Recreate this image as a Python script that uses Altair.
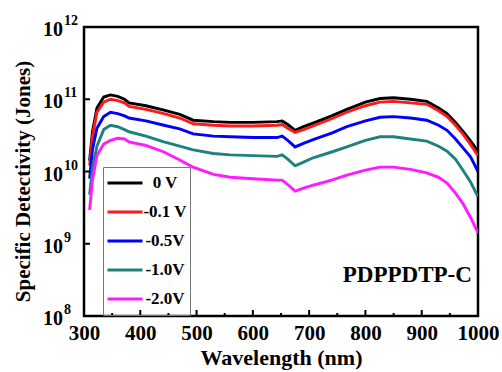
import altair as alt
import pandas as pd

wavelength = [310, 315, 323, 335, 347, 360, 372, 380, 410, 442, 470, 494, 530, 560, 600,
              643, 652, 662, 675, 690, 707, 740, 767, 800, 826, 850, 880, 909, 930, 945,
              960, 973, 987, 1000]

# log10 of specific detectivity
log_0V = [10.15, 10.55, 10.88, 11.03, 11.06, 11.04, 11.00, 10.95, 10.91, 10.85, 10.79, 10.71,
          10.69, 10.68, 10.68, 10.69, 10.70, 10.65, 10.57, 10.62, 10.67, 10.77, 10.86, 10.96,
          11.01, 11.02, 11.00, 10.97, 10.88, 10.80, 10.68, 10.56, 10.42, 10.28]
log_01V = [10.08, 10.48, 10.82, 10.96, 11.00, 10.98, 10.95, 10.90, 10.86, 10.80, 10.74, 10.66,
           10.64, 10.63, 10.63, 10.64, 10.65, 10.60, 10.54, 10.58, 10.63, 10.73, 10.82, 10.91,
           10.96, 10.97, 10.95, 10.93, 10.84, 10.76, 10.64, 10.52, 10.37, 10.22]
log_05V = [9.90, 10.30, 10.60, 10.76, 10.82, 10.80, 10.77, 10.74, 10.70, 10.64, 10.59, 10.52,
           10.49, 10.48, 10.47, 10.47, 10.49, 10.43, 10.34, 10.39, 10.44, 10.53, 10.62, 10.70,
           10.75, 10.76, 10.74, 10.71, 10.64, 10.57, 10.45, 10.33, 10.20, 10.00]
log_10V = [9.68, 10.05, 10.35, 10.58, 10.64, 10.62, 10.58, 10.55, 10.49, 10.41, 10.35, 10.30,
           10.25, 10.23, 10.22, 10.21, 10.23, 10.17, 10.08, 10.13, 10.19, 10.27, 10.34, 10.43,
           10.48, 10.48, 10.45, 10.42, 10.35, 10.28, 10.17, 10.02, 9.85, 9.65]
log_20V = [9.47, 9.88, 10.22, 10.38, 10.43, 10.46, 10.45, 10.41, 10.36, 10.27, 10.16, 10.06,
           9.96, 9.92, 9.90, 9.88, 9.88, 9.82, 9.73, 9.77, 9.81, 9.88, 9.95, 10.02,
           10.06, 10.06, 10.03, 9.98, 9.92, 9.84, 9.70, 9.56, 9.36, 9.15]

series_names = ["0 V", "-0.1 V", "-0.5V", "-1.0V", "-2.0V"]
series_colors = ["#000000", "#ff1a1a", "#0000ff", "#1f8080", "#ff1aff"]
series_logs = [log_0V, log_01V, log_05V, log_10V, log_20V]

x_major = [300, 400, 500, 600, 700, 800, 900, 1000]
x_minor = [350, 450, 550, 650, 750, 850, 950]
y_major = [1e8, 1e9, 1e10, 1e11, 1e12]
y_base_labels = ["10", "10", "10", "10", "10"]
y_exp_labels = ["8", "9", "10", "11", "12"]

sample_label = "PDPPDTP-C"
label_pos_x = [989]
label_pos_y = [3.7e8]

rows = []
for name, logs in zip(series_names, series_logs):
    for w, l in zip(wavelength, logs):
        rows.append({"wl": w, "D": 10 ** l, "series": name})
df = pd.DataFrame(rows)

FONT = "Liberation Serif"
W, H = 394, 289

xscale = alt.Scale(domain=[300, 1000], nice=False, zero=False)
yscale = alt.Scale(type="log", domain=[1e8, 1e12], nice=False)

lines = alt.Chart(df).mark_line(strokeWidth=2.9, clip=True).encode(
    x=alt.X("wl:Q", scale=xscale,
            axis=alt.Axis(values=x_major, format="d", title="Wavelength (nm)", grid=False,
                          ticks=False, domain=False, labelFont=FONT, labelFontSize=21,
                          labelFontWeight="bold", labelColor="black", labelPadding=6,
                          titleFont=FONT, titleFontSize=22, titleFontWeight="bold",
                          titleColor="black", titlePadding=4, labelFlush=False)),
    y=alt.Y("D:Q", scale=yscale,
            axis=alt.Axis(values=y_major, title="Specific Detectivity (Jones)", grid=False,
                          ticks=False, domain=False, labels=False, titleFont=FONT,
                          titleFontSize=21, titleFontWeight="bold", titleColor="black",
                          titleX=-61, titleY=154, titleAngle=270, titleBaseline="middle",
                          titleAlign="center")),
    color=alt.Color("series:N", scale=alt.Scale(domain=series_names, range=series_colors),
                    legend=alt.Legend(title=None, orient="none", legendX=19, legendY=140,
                                      symbolType="stroke", symbolSize=1225, symbolStrokeWidth=3,
                                      labelFont=FONT, labelFontSize=17, labelFontWeight="bold",
                                      labelColor="black", labelAlign="center", labelOffset=21,
                                      rowPadding=3, clipHeight=26,
                                      padding=3, strokeColor="#777777",
                                      symbolOffset=0)),
    order=alt.Order("wl:Q"),
)

xt_major = alt.Chart(pd.DataFrame({"wl": x_major[1:-1]})).mark_rule(color="black", strokeWidth=2).encode(
    x=alt.X("wl:Q", scale=xscale), y=alt.value(H), y2=alt.value(H - 6))
xt_minor = alt.Chart(pd.DataFrame({"wl": x_minor})).mark_rule(color="black", strokeWidth=2).encode(
    x=alt.X("wl:Q", scale=xscale), y=alt.value(H), y2=alt.value(H - 3))
yt_major = alt.Chart(pd.DataFrame({"D": y_major[1:-1]})).mark_rule(color="black", strokeWidth=2).encode(
    y=alt.Y("D:Q", scale=yscale), x=alt.value(0), x2=alt.value(6))

ylab_df = pd.DataFrame({"D": y_major, "base": y_base_labels, "exp": y_exp_labels})
ylab_base = alt.Chart(ylab_df).mark_text(
    font=FONT, fontSize=20, fontWeight="bold", align="right", baseline="middle",
    color="black", dy=3).encode(y=alt.Y("D:Q", scale=yscale), x=alt.value(-21), text="base:N")
ylab_exp = alt.Chart(ylab_df).mark_text(
    font=FONT, fontSize=14, fontWeight="bold", align="left", baseline="middle",
    color="black", dy=-6, dx=1).encode(y=alt.Y("D:Q", scale=yscale), x=alt.value(-21), text="exp:N")

label = alt.Chart(pd.DataFrame({"wl": label_pos_x, "D": label_pos_y, "t": [sample_label]})).mark_text(
    font=FONT, fontSize=23, fontWeight="bold", align="right", baseline="middle", color="black"
).encode(x=alt.X("wl:Q", scale=xscale), y=alt.Y("D:Q", scale=yscale), text="t:N")

chart = alt.layer(lines, xt_major, xt_minor, yt_major, ylab_base, ylab_exp, label).properties(
    width=W, height=H,
    autosize=alt.AutoSizeParams(type="none"),
    padding={"left": 84, "top": 27, "right": 24, "bottom": 56},
    background="white",
).configure_view(stroke="black", strokeWidth=2.5)

chart.save("out.html", embed_options={"renderer": "svg", "actions": False})
